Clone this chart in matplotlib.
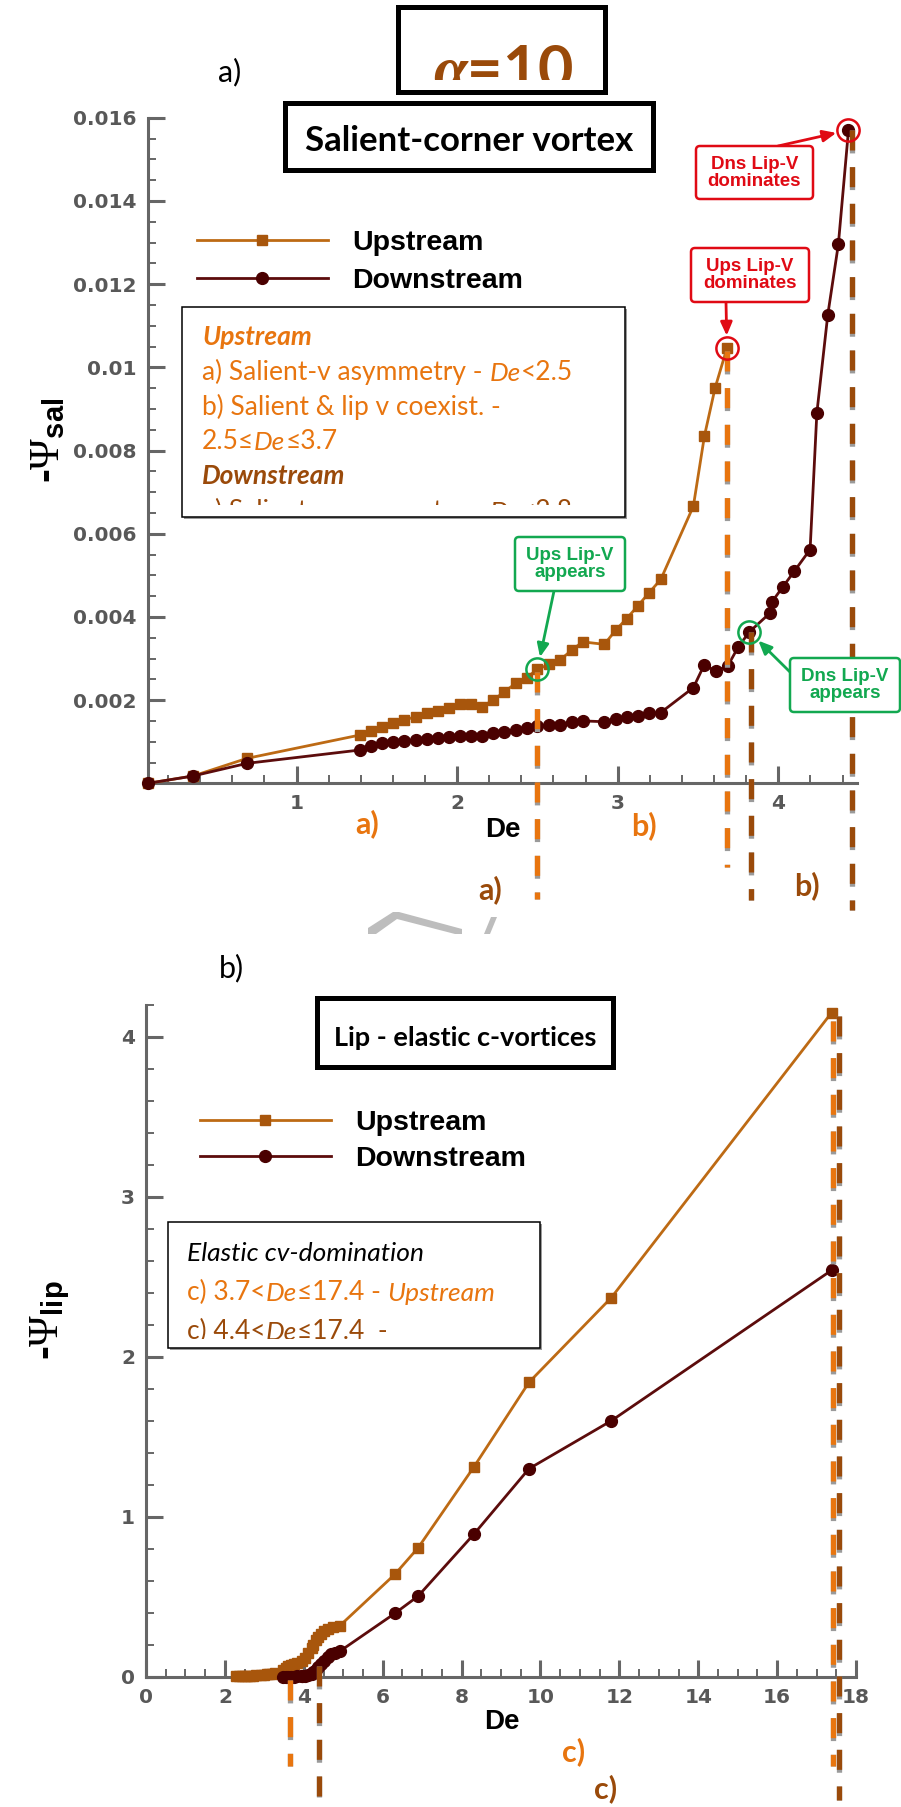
import matplotlib
matplotlib.use('Agg')
import matplotlib.pyplot as plt
from matplotlib.patches import Rectangle, FancyBboxPatch, Polygon
from matplotlib.transforms import Bbox
from matplotlib.ticker import MultipleLocator

plt.rcParams['mathtext.fontset'] = 'custom'
plt.rcParams['mathtext.rm'] = 'Liberation Serif'
plt.rcParams['mathtext.it'] = 'Liberation Serif:italic:bold'
plt.rcParams['mathtext.bf'] = 'Liberation Serif:bold'
plt.rcParams['mathtext.sf'] = 'Liberation Sans:bold'
plt.rcParams['lines.scale_dashes'] = False

# ---- a) salient-corner vortex strength vs De
de_up_sal = [0.075, 0.356, 0.692, 1.394, 1.461, 1.533, 1.602, 1.671, 1.741, 1.81, 1.878,
             1.949, 2.017, 2.084, 2.153, 2.225, 2.294, 2.364, 2.433, 2.5, 2.574, 2.64,
             2.713, 2.782, 2.917, 2.987, 3.056, 3.124, 3.195, 3.268, 3.471, 3.54, 3.606, 3.68]
psi_up_sal = [0.0, 0.000176, 0.0006, 0.00116, 0.00126, 0.00136, 0.00146, 0.00152, 0.0016,
              0.00168, 0.00174, 0.00182, 0.0019, 0.0019, 0.00184, 0.002, 0.0022, 0.0024,
              0.00254, 0.00274, 0.00286, 0.00296, 0.0032, 0.0034, 0.00334, 0.00368, 0.00396,
              0.00426, 0.00458, 0.0049, 0.00666, 0.00835, 0.0095, 0.01046]
de_dn_sal = [0.075, 0.356, 0.692, 1.394, 1.461, 1.533, 1.602, 1.671, 1.741, 1.81, 1.878,
             1.949, 2.017, 2.084, 2.153, 2.225, 2.294, 2.364, 2.433, 2.5, 2.574, 2.64,
             2.713, 2.782, 2.917, 2.987, 3.056, 3.124, 3.195, 3.268, 3.471, 3.538, 3.61,
             3.685, 3.751, 3.82, 3.95, 3.96, 4.028, 4.1, 4.198, 4.24, 4.308, 4.374, 4.437]
psi_dn_sal = [0.0, 0.000176, 0.00048, 0.0008, 0.0009, 0.00096, 0.001, 0.00102, 0.00104,
              0.00107, 0.0011, 0.00112, 0.00114, 0.00114, 0.00114, 0.0012, 0.00124, 0.00128,
              0.00134, 0.00138, 0.0014, 0.0014, 0.00148, 0.0015, 0.00148, 0.00154, 0.0016,
              0.00162, 0.00168, 0.0017, 0.0023, 0.00284, 0.0027, 0.00282, 0.00328, 0.00364,
              0.0041, 0.00436, 0.00472, 0.0051, 0.00562, 0.0089, 0.01126, 0.01296, 0.0157]

# ---- b) lip (elastic c-) vortex strength vs De
de_up_lip = [2.28, 2.36, 2.43, 2.5, 2.57, 2.64, 2.71, 2.78, 2.92, 2.99, 3.06, 3.12, 3.2, 3.27,
             3.47, 3.54, 3.61, 3.68, 3.75, 3.82, 3.95, 4.03, 4.1, 4.2, 4.24, 4.31, 4.37, 4.44,
             4.52, 4.62, 4.75, 4.92, 6.31, 6.9, 8.31, 9.71, 11.8, 17.38]
psi_up_lip = [0.004, 0.004, 0.004, 0.005, 0.005, 0.006, 0.007, 0.008, 0.01, 0.012, 0.014,
              0.017, 0.02, 0.025, 0.045, 0.055, 0.065, 0.072, 0.078, 0.085, 0.1, 0.12, 0.15,
              0.18, 0.2, 0.23, 0.25, 0.27, 0.285, 0.3, 0.31, 0.32, 0.64, 0.806, 1.31, 1.84,
              2.37, 4.15]
de_dn_lip = [3.47, 3.54, 3.61, 3.68, 3.75, 3.82, 3.95, 3.96, 4.03, 4.1, 4.2, 4.24, 4.31, 4.37,
             4.44, 4.52, 4.62, 4.7, 4.8, 4.92, 6.31, 6.9, 8.31, 9.71, 11.8, 17.38]
psi_dn_lip = [0.0, 0.0, 0.0, 0.0, 0.001, 0.002, 0.003, 0.004, 0.006, 0.01, 0.02, 0.03, 0.045,
              0.06, 0.08, 0.1, 0.125, 0.14, 0.15, 0.16, 0.396, 0.504, 0.89, 1.30, 1.6, 2.54]

# regime limits (dashed markers): De, value where the line starts, kind
sal_lim_de = [2.5, 3.68, 3.83, 4.46]
sal_lim_top = [0.00268, 0.0104, 0.00364, 0.0157]
sal_lim_kind = ['up', 'up', 'dn', 'dn']
lip_lim_de = [3.66, 4.38, 17.42, 17.57]
lip_lim_top = [-0.02, 0.07, 4.10, 4.13]
lip_lim_kind = ['up', 'dn', 'up', 'dn']

TXT = ['Lato', 'DejaVu Sans']
ARI = ['Liberation Sans', 'DejaVu Sans']
UP_LINE, UP_MARK = '#BD6A14', '#A8560C'
DN_LINE, DN_MARK = '#5C0C0C', '#4A0000'
ORANGE, BROWN = '#E8750F', '#9A4A0A'
GREEN, RED = '#12A850', '#E00A14'
AXC, TICKC = '#666666', '#585858'
LIMC = {'up': ORANGE, 'dn': BROWN}

W, H = 901, 1807
fig = plt.figure(figsize=(W / 100, H / 100), dpi=100)


def frac(x0, y0, x1, y1):
    return [x0 / W, 1 - y1 / H, (x1 - x0) / W, (y1 - y0) / H]


def pxbox(x0, y0, x1, y1):
    return Bbox.from_extents(x0, H - y1, x1, H - y0)


ax1 = fig.add_axes(frac(148, 117.7, 857, 783.3))
ax2 = fig.add_axes(frac(146, 1004.7, 856, 1676.7))
ov = fig.add_axes([0, 0, 1, 1])
ov.set_xlim(0, W)
ov.set_ylim(H, 0)
ov.axis('off')
ov.patch.set_visible(False)


def style(ax):
    for s in ['top', 'right']:
        ax.spines[s].set_visible(False)
    for s in ['left', 'bottom']:
        ax.spines[s].set_color(AXC)
        ax.spines[s].set_linewidth(2.2)
    ax.tick_params(which='both', direction='in', color=AXC, top=False, right=False)
    ax.tick_params(which='major', length=12, width=2.2, labelsize=14.5,
                   labelcolor=TICKC, pad=8)
    ax.tick_params(which='minor', length=6, width=1.4)


def dash(ax, x, y0, y1, color):
    ax.plot([x, x], [y0, y1], color='#9a9a9a', lw=3.8, ls=(0, (16.5, 9.9)),
            clip_on=False, zorder=6)
    ax.plot([x, x], [y0, y1], color=color, lw=3.8, ls=(0, (14.4, 12.0)),
            clip_on=False, zorder=7)


def series(ax, xu, yu, xd, yd):
    ax.plot(xu, yu, color=UP_LINE, lw=2, marker='s', ms=6.5, mfc=UP_MARK, mec=UP_MARK,
            label='Upstream', clip_on=False, zorder=3)
    ax.plot(xd, yd, color=DN_LINE, lw=2, marker='o', ms=8.5, mfc=DN_MARK, mec=DN_MARK,
            label='Downstream', clip_on=False, zorder=4)


def legend(ax, x, y, spacing):
    ax.legend(loc='upper left', bbox_to_anchor=(x, y), bbox_transform=ov.transData,
              frameon=False, borderpad=0, borderaxespad=0, handlelength=4.6,
              handletextpad=0.85, labelspacing=spacing,
              prop=dict(family=ARI, weight='bold', size=20.5))


def rich(x, y, pieces, clip, size=19):
    prev = None
    for s, st, wt, col in pieces:
        kw = dict(fontsize=size, family=TXT, style=st, weight=wt, color=col,
                  ha='left', clip_on=True, zorder=7)
        if prev is None:
            t = ov.text(x, y, s, va='baseline', **kw)
        else:
            t = ov.annotate(s, xy=(1, 0), xycoords=prev, va='bottom', **kw)
        t.set_clip_box(clip)
        prev = t


def framebox(x0, y0, x1, y1, lw):
    ov.add_patch(Rectangle((x0, y0), x1 - x0, y1 - y0, fill=False, ec='black', lw=lw,
                           zorder=5))


def callout(cx, cy, w, h, text, color):
    ov.add_patch(FancyBboxPatch((cx - w / 2, cy - h / 2), w, h,
                                boxstyle='round,pad=0,rounding_size=4',
                                ec=color, fc='white', lw=1.8, zorder=8))
    ov.text(cx, cy, text, ha='center', va='center', color=color, fontsize=13.5,
            fontweight='bold', family=ARI, linespacing=1.0, zorder=9)


def pointer(ax, de, val, px, py, color, shrink):
    ax.annotate('', xy=(de, val), xytext=(px, py), textcoords=ov.transData,
                arrowprops=dict(arrowstyle='-|>,head_length=0.8,head_width=0.35',
                                color=color, lw=2, shrinkA=0, shrinkB=shrink),
                annotation_clip=False, zorder=8)


def ring(ax, de, val, color):
    ax.plot([de], [val], 'o', ms=16, mfc='none', mec=color, mew=1.8, clip_on=False,
            zorder=8)


# ================= panel a =================
style(ax1)
ax1.set_xlim(0.075, 4.49)
ax1.set_ylim(0, 0.016)
ax1.set_xticks([1, 2, 3, 4], ['1', '2', '3', '4'], fontweight='bold')
yt = [0.002, 0.004, 0.006, 0.008, 0.01, 0.012, 0.014, 0.016]
ax1.set_yticks(yt, ['0.002', '0.004', '0.006', '0.008', '0.01', '0.012', '0.014', '0.016'],
               fontweight='bold')
ax1.xaxis.set_minor_locator(MultipleLocator(0.2))
ax1.yaxis.set_minor_locator(MultipleLocator(0.0005))
series(ax1, de_up_sal, psi_up_sal, de_dn_sal, psi_dn_sal)
legend(ax1, 197, 230, 0.43)

sal_lim_end = [-0.00277, -0.00202, -0.00281, -0.00305]
for x, y0, y1, k in zip(sal_lim_de, sal_lim_top, sal_lim_end, sal_lim_kind):
    dash(ax1, x, y0, y1, LIMC[k])

ax1.set_xlabel('De', fontsize=20, fontweight='bold', family=ARI, va='center')
ax1.xaxis.set_label_coords(0.5007, -0.070)
ov.text(48, 440, r'-$\Psi_{\mathsf{sal}}$', rotation=90, ha='center', va='center',
        fontsize=30, fontweight='bold', family=ARI)

# callouts panel a
ring(ax1, de_up_sal[19], psi_up_sal[19], GREEN)
ring(ax1, de_dn_sal[35], psi_dn_sal[35], GREEN)
ring(ax1, de_up_sal[-1], psi_up_sal[-1], RED)
ring(ax1, de_dn_sal[-1], psi_dn_sal[-1], RED)
pointer(ax1, de_up_sal[19], psi_up_sal[19], 554, 591, GREEN, 9)
pointer(ax1, de_dn_sal[35], psi_dn_sal[35], 790, 672, GREEN, 9)
pointer(ax1, de_up_sal[-1], psi_up_sal[-1], 726, 302, RED, 9)
pointer(ax1, de_dn_sal[-1], psi_dn_sal[-1], 778, 146, RED, 9)
callout(570, 564, 110, 54, 'Ups Lip-V\nappears', GREEN)
callout(845, 685, 110, 54, 'Dns Lip-V\nappears', GREEN)
callout(750, 275, 118, 54, 'Ups Lip-V\ndominates', RED)
callout(754.5, 172.5, 117, 53, 'Dns Lip-V\ndominates', RED)

# title boxes
framebox(398, 7, 605, 92, 3.6)
t = ov.text(503, 88, r'$\alpha$=10', ha='center', va='baseline', fontsize=44,
            fontweight='bold', family=TXT, color=BROWN, clip_on=True)
t.set_clip_box(pxbox(398, 7, 605, 80))
ov.text(230, 72, 'a)', ha='center', va='center', fontsize=22, family=TXT)
framebox(285, 103, 653, 170, 3.6)
ov.text(469, 151, 'Salient-corner vortex', ha='center', va='baseline', fontsize=25,
        fontweight='bold', family=TXT)

# regime text box panel a
ov.add_patch(Rectangle((184, 309), 443, 210, fc='#9a9a9a', ec='none', zorder=4))
ov.add_patch(Rectangle((182, 307), 443, 210, fc='white', ec='black', lw=1.1, zorder=5))
clipa = pxbox(183, 308, 624, 505)
rich(202, 345, [('Upstream', 'italic', 'bold', ORANGE)], clipa)
rich(202, 380, [('a) Salient-v asymmetry - ', 'normal', 'normal', ORANGE),
                ('De', 'italic', 'normal', ORANGE), ('<2.5', 'normal', 'normal', ORANGE)], clipa)
rich(202, 415, [('b) Salient & lip v coexist. -', 'normal', 'normal', ORANGE)], clipa)
rich(202, 449, [('2.5≤', 'normal', 'normal', ORANGE), ('De', 'italic', 'normal', ORANGE),
                ('≤3.7', 'normal', 'normal', ORANGE)], clipa)
rich(202, 484, [('Downstream', 'italic', 'bold', BROWN)], clipa)
rich(202, 519, [('a) Salient-v asymmetry - ', 'normal', 'normal', BROWN),
                ('De', 'italic', 'normal', BROWN), ('<2.8', 'normal', 'normal', BROWN)], clipa)

# regime letters under panel a
ov.text(367, 824, 'a)', ha='center', va='center', fontsize=22, fontweight='bold',
        family=TXT, color=ORANGE)
ov.text(644, 826, 'b)', ha='center', va='center', fontsize=22, fontweight='bold',
        family=TXT, color=ORANGE)
ov.text(490, 890, 'a)', ha='center', va='center', fontsize=22, fontweight='bold',
        family=TXT, color=BROWN)
ov.text(807, 886, 'b)', ha='center', va='center', fontsize=22, fontweight='bold',
        family=TXT, color=BROWN)

# remnant of grey arrow between panels
ov.add_patch(Polygon([(368, 928), (393, 912), (399, 912), (462, 929), (462, 934),
                      (455, 934), (397, 919), (376, 934), (368, 934)],
                     closed=True, fc='#BDBDBD', ec='none'))
ov.add_patch(Polygon([(484, 934), (491, 917), (497, 917), (490, 934)],
                     closed=True, fc='#BDBDBD', ec='none'))

# ================= panel b =================
style(ax2)
ax2.set_xlim(0, 18)
ax2.set_ylim(0, 4.2)
xt = list(range(0, 19, 2))
ax2.set_xticks(xt, [str(v) for v in xt], fontweight='bold')
ax2.set_yticks([0, 1, 2, 3, 4], ['0', '1', '2', '3', '4'], fontweight='bold')
ax2.xaxis.set_minor_locator(MultipleLocator(0.5))
ax2.yaxis.set_minor_locator(MultipleLocator(0.2))
series(ax2, de_up_lip, psi_up_lip, de_dn_lip, psi_dn_lip)
legend(ax2, 200, 1110, 0.36)

lip_lim_end = [-0.56, -0.75, -0.56, -0.77]
for x, y0, y1, k in zip(lip_lim_de, lip_lim_top, lip_lim_end, lip_lim_kind):
    dash(ax2, x, y0, y1, LIMC[k])

ax2.set_xlabel('De', fontsize=20, fontweight='bold', family=ARI, va='center')
ax2.xaxis.set_label_coords(0.5007, -0.068)
ov.text(50, 1320, r'-$\Psi_{\mathsf{lip}}$', rotation=90, ha='center', va='center',
        fontsize=30, fontweight='bold', family=ARI)

ov.text(231, 968, 'b)', ha='center', va='center', fontsize=22, family=TXT)
framebox(317, 998, 613, 1067, 3.6)
ov.text(465, 1046, 'Lip - elastic c-vortices', ha='center', va='baseline', fontsize=19.5,
        fontweight='bold', family=TXT)

ov.add_patch(Rectangle((170, 1224), 372, 126, fc='#9a9a9a', ec='none', zorder=4))
ov.add_patch(Rectangle((168, 1222), 372, 126, fc='white', ec='black', lw=1.1, zorder=5))
clipb = pxbox(169, 1223, 539, 1339)
rich(187, 1261, [('Elastic cv-domination', 'italic', 'normal', 'black')], clipb)
rich(187, 1300, [('c) 3.7<', 'normal', 'normal', ORANGE), ('De', 'italic', 'normal', ORANGE),
                 ('≤17.4 - ', 'normal', 'normal', ORANGE),
                 ('Upstream', 'italic', 'normal', ORANGE)], clipb)
rich(187, 1339, [('c) 4.4<', 'normal', 'normal', BROWN), ('De', 'italic', 'normal', BROWN),
                 ('≤17.4  -', 'normal', 'normal', BROWN)], clipb)

ov.text(574, 1752, 'c)', ha='center', va='center', fontsize=22, fontweight='bold',
        family=TXT, color=ORANGE)
ov.text(606, 1789, 'c)', ha='center', va='center', fontsize=22, fontweight='bold',
        family=TXT, color=BROWN)

fig.savefig('out.png', dpi=100)
